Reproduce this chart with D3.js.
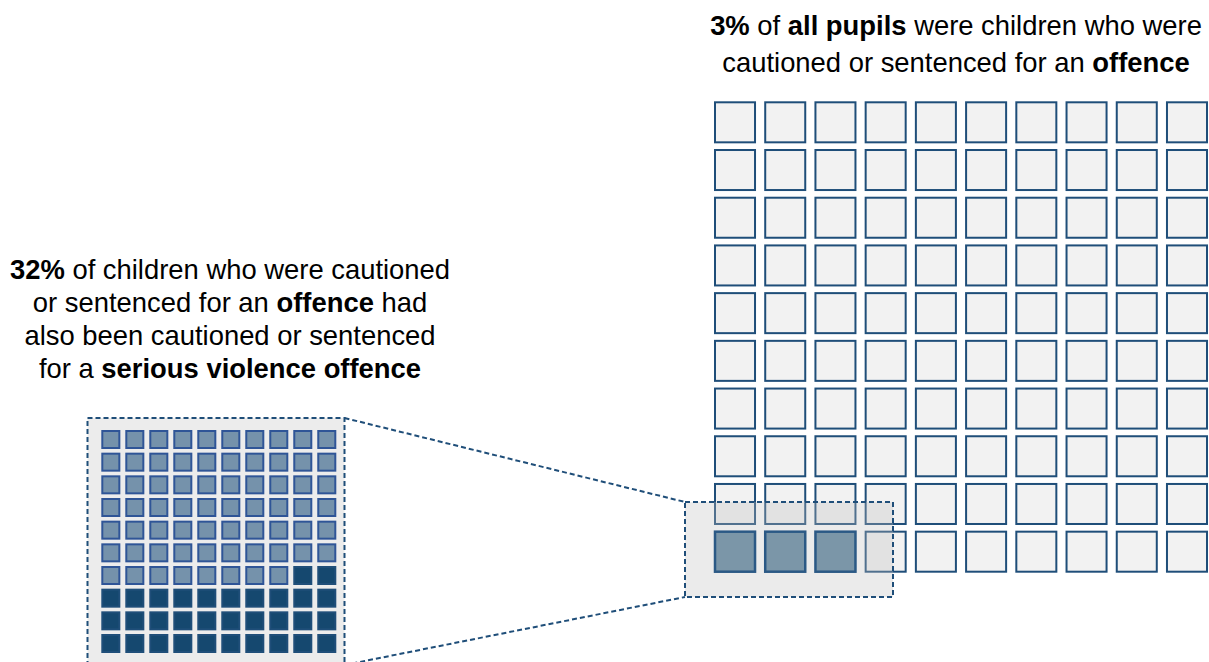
<!DOCTYPE html>
<html>
<head>
<meta charset="utf-8">
<script src="https://cdn.jsdelivr.net/npm/d3@7"></script>
<style>
  html, body { margin: 0; padding: 0; background: #ffffff; }
  svg { display: block; font-family: "Liberation Sans", Arial, sans-serif; }
</style>
</head>
<body>
<svg id="chart" width="1209" height="662"></svg>
<script>
// Waffle 1: all pupils (10 x 10 = 100 cells), share who were cautioned/sentenced
const pupilsTotal = 100;
const pupilsOffenceShare = 3;        // percent
// Waffle 2: children cautioned/sentenced, share with a serious violence offence
const offendersTotal = 100;
const seriousViolenceShare = 32;     // percent
const gridCols = d3.range(10);
const gridRows = d3.range(10);

// Headline text, split into plain / bold runs
const topLabel = [
  [["3%", true], [" of ", false], ["all pupils", true], [" were children who were", false]],
  [["cautioned or sentenced for an ", false], ["offence", true]]
];
const leftLabel = [
  [["32%", true], [" of children who were cautioned", false]],
  [["or sentenced for an ", false], ["offence", true], [" had", false]],
  [["also been cautioned or sentenced", false]],
  [["for a ", false], ["serious violence offence", true]]
];

const svg = d3.select("#chart");
const navy = "#1f4e79";

// ---------- large waffle ----------
const bigX = d3.scaleBand().domain(gridCols).range([715, 1207]).paddingInner(0.203);
const bigY = d3.scaleBand().domain(gridRows).range([102.3, 571.7]).paddingInner(0.161);

// the highlighted cells sit at the start of the bottom row
const bigCells = d3.range(pupilsTotal).map(i => {
  const col = i % 10, row = Math.floor(i / 10);
  return { col, row, hit: row === 9 && col < pupilsOffenceShare };
});

svg.append("g").selectAll("rect")
  .data(bigCells.filter(d => !d.hit))
  .join("rect")
  .attr("x", d => bigX(d.col))
  .attr("y", d => bigY(d.row))
  .attr("width", bigX.bandwidth())
  .attr("height", bigY.bandwidth())
  .attr("fill", "#f2f2f2")
  .attr("stroke", navy)
  .attr("stroke-width", 2);

// ---------- small waffle (detail) ----------
const boxL = 87.5, boxT = 418, boxR = 344.5, boxB = 665;
svg.append("rect")
  .attr("x", boxL).attr("y", boxT)
  .attr("width", boxR - boxL).attr("height", boxB - boxT)
  .attr("fill", "#ececec")
  .attr("stroke", navy)
  .attr("stroke-width", 2)
  .attr("stroke-dasharray", "5,3");

const smX = d3.scaleBand().domain(gridCols).range([102.3, 335.3]).paddingInner(0.29);
const smY = d3.scaleBand().domain(gridRows).range([431, 652]).paddingInner(0.25);

const smallCells = d3.range(offendersTotal).map(i => ({
  col: i % 10, row: Math.floor(i / 10),
  serious: i >= offendersTotal - seriousViolenceShare
}));

svg.append("g").selectAll("rect")
  .data(smallCells)
  .join("rect")
  .attr("x", d => smX(d.col))
  .attr("y", d => smY(d.row))
  .attr("width", smX.bandwidth())
  .attr("height", smY.bandwidth())
  .attr("fill", d => d.serious ? "#15486f" : "#7592ab")
  .attr("stroke", d => d.serious ? "#1f4e79" : "#2f5597")
  .attr("stroke-width", 2);

// ---------- zoom highlight box over the large waffle ----------
const zL = 685, zT = 502, zR = 893, zB = 597;
svg.append("rect")
  .attr("x", zL).attr("y", zT)
  .attr("width", zR - zL).attr("height", zB - zT)
  .attr("fill", "rgb(190,190,190)")
  .attr("fill-opacity", 0.31)
  .attr("stroke", navy)
  .attr("stroke-width", 2)
  .attr("stroke-dasharray", "5,3");

svg.append("g").selectAll("rect")
  .data(bigCells.filter(d => d.hit))
  .join("rect")
  .attr("x", d => bigX(d.col))
  .attr("y", d => bigY(d.row))
  .attr("width", bigX.bandwidth())
  .attr("height", bigY.bandwidth())
  .attr("fill", "#7b96a8")
  .attr("stroke", "#2b5985")
  .attr("stroke-width", 2.5);

// connector lines between the two boxes
const connectors = [
  [[boxR, boxT], [zL, zT]],
  [[boxR, boxB], [zL, zB]]
];
svg.append("g").selectAll("line")
  .data(connectors)
  .join("line")
  .attr("x1", d => d[0][0]).attr("y1", d => d[0][1])
  .attr("x2", d => d[1][0]).attr("y2", d => d[1][1])
  .attr("stroke", navy)
  .attr("stroke-width", 2)
  .attr("stroke-dasharray", "5,3");

// ---------- labels ----------
function drawLabel(lines, cx, y0, dy) {
  const t = svg.append("text")
    .attr("text-anchor", "middle")
    .attr("font-size", 27.4)
    .attr("fill", "#000");
  lines.forEach((runs, li) => {
    runs.forEach(([str, bold], ri) => {
      const ts = t.append("tspan").text(str)
        .attr("font-weight", bold ? "bold" : "normal");
      if (ri === 0) ts.attr("x", cx).attr("y", y0 + li * dy);
    });
  });
}
drawLabel(topLabel, 956, 35, 37);
drawLabel(leftLabel, 230, 279, 33);
</script>
</body>
</html>
